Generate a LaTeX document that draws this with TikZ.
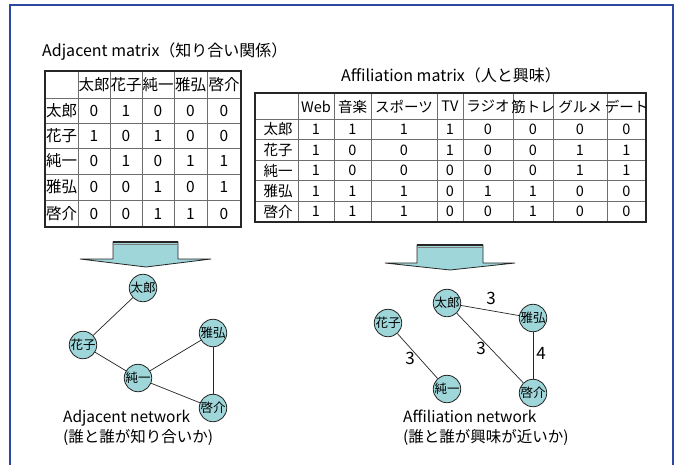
\documentclass[tikz,border=0pt]{standalone}
\usepackage{fontspec}
\setmainfont{Noto Sans CJK JP}
\definecolor{frameblue}{RGB}{44,72,162}
\definecolor{nodefill}{RGB}{158,214,218}
\definecolor{gridgray}{RGB}{110,110,110}
\begin{document}
\begin{tikzpicture}[x=1pt,y=-1pt,
  person/.style={circle,draw=black!85,line width=0.8pt,fill=nodefill,minimum size=26pt,inner sep=0pt,font=\fontsize{12.5}{13}\selectfont},
  link/.style={draw=black!85,line width=0.7pt},
  acell/.style={inner sep=0pt,font=\fontsize{15.5}{16}\selectfont},
  bcell/.style={inner sep=0pt,font=\fontsize{14.5}{15}\selectfont},
  inner/.style={draw=gridgray,line width=0.8pt},
  outer/.style={draw=black!85,line width=1.8pt},
  title/.style={inner sep=0pt,font=\fontsize{16}{18}\selectfont},
  caption/.style={inner sep=0pt,align=left,font=\fontsize{15.5}{20}\selectfont},
  num/.style={inner sep=0pt,font=\fontsize{17}{18}\selectfont},
  bigarrow/.style={fill=nodefill,draw=black!85,line width=0.8pt}
]
\useasboundingbox (0,0) rectangle (675,464);
\fill[white] (0,0) rectangle (675,464);
\draw[frameblue,line width=2.2pt] (10,466) -- (10,5) -- (673,5) -- (673,466);

% ---------- Adjacent matrix ----------
\node[title,anchor=west] (adjtitle) at (42,52) {Adjacent matrix（知り合い関係）};
\foreach \x in {78,110,142,174,207} \draw[inner] (\x,71) -- (\x,227);
\foreach \y in {98,123,148,174,200} \draw[inner] (45,\y) -- (241,\y);
\draw[outer] (45,71) rectangle (241,227);
\foreach \n/\cx [count=\c] in {太郎/94,花子/126,純一/158,雅弘/190.5,啓介/224}
  \node[acell] (ah-\c) at (\cx,85) {\n};
\foreach \rn/\cy/\vals [count=\r] in {%
  太郎/110.5/{0,1,0,0,0},%
  花子/135.5/{1,0,1,0,0},%
  純一/161/{0,1,0,1,1},%
  雅弘/187/{0,0,1,0,1},%
  啓介/213.5/{0,0,1,1,0}}{%
  \node[acell] (ar-\r) at (61.5,\cy) {\rn};
  \foreach \v [count=\c] in \vals {%
    \pgfmathsetmacro\xx{{94,126,158,190.5,224}[\c-1]}
    \node[acell] (a-\r-\c) at (\xx,\cy) {\v};
  }
}

% ---------- Affiliation matrix ----------
\node[title] (afftitle) at (451,75) {Affiliation matrix（人と興味）};
\foreach \x in {298,334,371,437,463,513,553,607} \draw[inner] (\x,93) -- (\x,222);
\foreach \y in {119,139.6,160.2,180.8,201.4} \draw[inner] (255,\y) -- (646,\y);
\draw[outer] (255,93) rectangle (646,222);
\foreach \n/\cx [count=\c] in {Web/316,音楽/352.5,スポーツ/404,TV/450,ラジオ/488,筋トレ/533,グルメ/580,デート/626.5}
  \node[bcell] (bh-\c) at (\cx,106.5) {\n};
\foreach \rn/\cy/\vals [count=\r] in {%
  太郎/129.3/{1,1,1,1,0,0,0,0},%
  花子/149.9/{1,0,0,1,0,0,1,1},%
  純一/170.5/{1,0,0,0,0,0,1,1},%
  雅弘/191.1/{1,1,1,0,1,1,0,0},%
  啓介/211.7/{1,1,1,0,0,1,0,0}}{%
  \node[bcell] (br-\r) at (278,\cy) {\rn};
  \foreach \v [count=\c] in \vals {%
    \pgfmathsetmacro\xx{{316,352.5,404,450,488,533,580,626.5}[\c-1]}
    \node[bcell] (b-\r-\c) at (\xx,\cy) {\v};
  }
}

% ---------- arrows ----------
\draw[bigarrow] (113,242) -- (178,242) -- (178,259) -- (211,259) -- (146,267) -- (80,259) -- (113,259) -- cycle;
\draw[black!85,line width=2.4pt] (113,242) -- (178,242);
\draw[gray,line width=0.8pt] (113,244.8) -- (178,244.8);
\draw[bigarrow] (417,245) -- (483,245) -- (483,263) -- (515,263) -- (450,270) -- (385,263) -- (417,263) -- cycle;
\draw[black!85,line width=2.4pt] (417,245) -- (483,245);
\draw[gray,line width=0.8pt] (417,247.8) -- (483,247.8);

% ---------- Adjacent network ----------
\node[person] (a1) at (143,288) {太郎};
\node[person] (a2) at (83,345) {花子};
\node[person] (a3) at (138,378) {純一};
\node[person] (a4) at (213,333) {雅弘};
\node[person] (a5) at (213,408) {啓介};
\draw[link] (a1) -- (a2);
\draw[link] (a2) -- (a3);
\draw[link] (a3) -- (a4);
\draw[link] (a3) -- (a5);
\draw[link] (a4) -- (a5);
\node[caption,anchor=west] (acap) at (63,428) {Adjacent network\\(誰と誰が知り合いか)};

% ---------- Affiliation network ----------
\node[person] (b1) at (447,303) {太郎};
\node[person] (b2) at (388,323) {花子};
\node[person] (b3) at (447,389) {純一};
\node[person] (b4) at (533,318) {雅弘};
\node[person] (b5) at (533,393) {啓介};
\draw[link] (b1) -- (b4);
\draw[link] (b1) -- (b5);
\draw[link] (b4) -- (b5);
\draw[link] (b2) -- (b3);
\node[num] (w1) at (491,298) {3};
\node[num] (w2) at (481,348) {3};
\node[num] (w3) at (541,353) {4};
\node[num] (w4) at (410,358) {3};
\node[caption,anchor=west] (bcap) at (403,428) {Affiliation network\\(誰と誰が興味が近いか)};
\end{tikzpicture}
\end{document}
